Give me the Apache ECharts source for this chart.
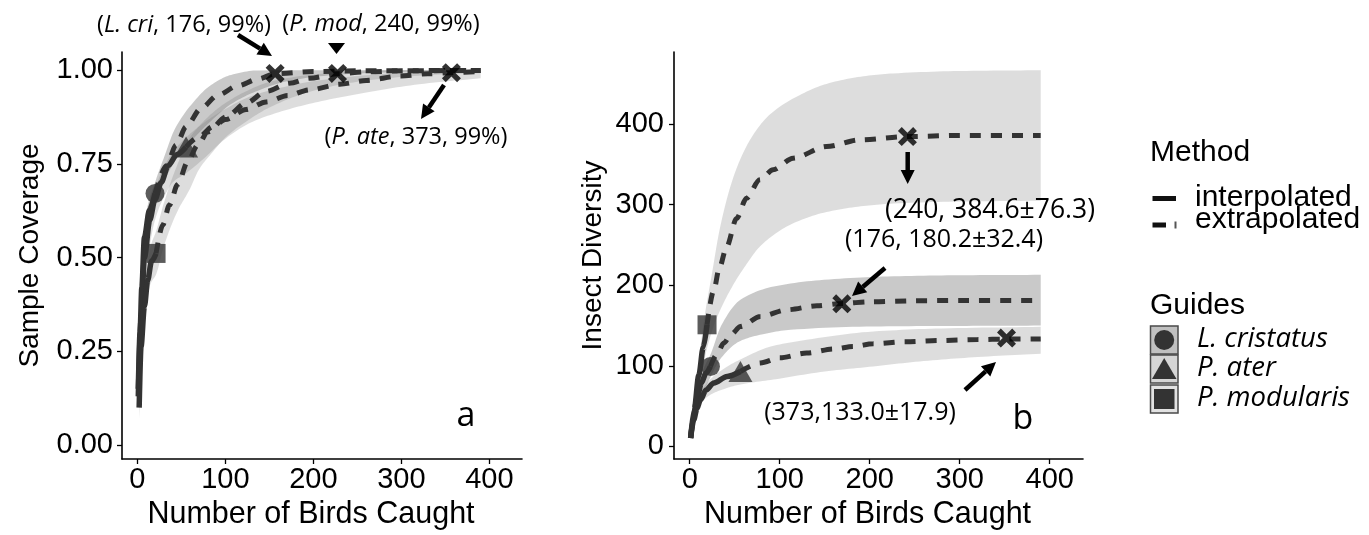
<!DOCTYPE html>
<html><head><meta charset="utf-8">
<script src="https://cdn.jsdelivr.net/npm/echarts@6/dist/echarts.min.js"></script>
<style>html,body{margin:0;padding:0;background:#fff}#c{width:1369px;height:535px}</style>
</head><body><div id="c"></div>
<script>
// ---------- DATA ----------
const species = ['L. cristatus', 'P. ater', 'P. modularis'];
const xTicks = [0, 100, 200, 300, 400];
const yTicksA = [0, 0.25, 0.5, 0.75, 1];
const yTicksB = [0, 100, 200, 300, 400];

// Panel a: sample coverage
const covInterpLcri = [[1,0.15],[3,0.30],[5,0.42],[8,0.555],[13.7,0.627],[20,0.671]];
const covExtrapLcri = [[20,0.671],[33,0.745],[44,0.80],[55.3,0.849],[72.4,0.898],[91.4,0.933],[114,0.958],[137,0.976],[156.5,0.99],[200,0.996],[260,0.998],[390,0.999]];
const covHiLcri = [[1,0.18],[5,0.50],[10,0.62],[20,0.70],[30.7,0.77],[42,0.84],[61,0.907],[83.7,0.96],[106.5,0.987],[137,0.999],[390,1.0]];
const covLoLcri = [[1,0.12],[5,0.34],[10,0.50],[20,0.64],[30,0.70],[42,0.755],[61,0.81],[84,0.865],[107,0.91],[137,0.945],[170,0.97],[220,0.986],[300,0.995],[390,0.998]];

const covInterpPate = [[1,0.13],[4,0.33],[8,0.50],[14,0.60],[20,0.655],[27,0.70],[35,0.745],[45,0.775],[55.3,0.795]];
const covExtrapPate = [[55.3,0.795],[70,0.822],[85.7,0.849],[100,0.868],[123.5,0.895],[146.3,0.915],[171,0.932],[195.7,0.947],[230,0.962],[260,0.972],[298,0.984],[330,0.99],[356.8,0.993],[390,0.996]];
const covHiPate = [[1,0.16],[5,0.38],[10,0.54],[20,0.68],[30,0.74],[40,0.78],[55.3,0.82],[76,0.86],[99,0.895],[129,0.93],[167,0.955],[205,0.972],[260,0.986],[320,0.995],[390,0.999]];
const covLoPate = [[1,0.10],[5,0.30],[10,0.46],[20,0.60],[30,0.66],[40,0.70],[55.3,0.725],[76,0.765],[99,0.815],[129,0.86],[167,0.892],[205,0.915],[260,0.94],[320,0.962],[390,0.978]];

const covInterpPmod = [[2,0.10],[4.1,0.262],[8,0.37],[11.7,0.44],[16,0.49],[21.2,0.511]];
const covExtrapPmod = [[21.2,0.511],[28.8,0.587],[36.4,0.64],[45.8,0.695],[57,0.755],[68.6,0.80],[80,0.835],[100.8,0.875],[123.5,0.912],[146.3,0.943],[172.9,0.965],[195.7,0.978],[227.4,0.99],[260,0.995],[300,0.998],[390,0.999]];
const covHiPmod = [[2,0.13],[5,0.31],[10,0.46],[15,0.53],[21.2,0.57],[30,0.645],[45.8,0.75],[57,0.81],[70,0.85],[85,0.885],[100,0.912],[125,0.945],[150,0.968],[200,0.988],[260,0.997],[390,1.0]];
const covLoPmod = [[2,0.07],[5,0.22],[10,0.37],[15,0.43],[21.2,0.455],[30,0.53],[45.8,0.625],[59,0.68],[70,0.735],[85,0.78],[100,0.82],[125,0.865],[150,0.9],[200,0.945],[260,0.972],[320,0.985],[390,0.992]];

const covObserved = [[20,0.671],[55.3,0.795],[21.2,0.511]];   // L. cri, P. ater, P. mod
const covEndpoints = [[156.5,0.991],[227.4,0.991],[356.8,0.993]];

// Panel b: insect diversity
const divInterpLcri = [[1,10.4],[4,35],[8,60],[13,79],[18,91],[23,99.3]];
const divExtrapLcri = [[23,99.3],[30,114],[37.8,128.3],[46,139],[56.3,148.9],[78.5,161.3],[108,169.6],[141.4,174.6],[169,177.5],[200,179.5],[250,180.8],[300,181.2],[390,181.3]];
const divHiLcri = [[1,12],[5,45],[10,76],[16,98],[23,114],[35,150],[56.3,182],[93.3,198.5],[149,206.8],[220,211],[300,212.5],[390,213]];
const divLoLcri = [[1,9],[5,28],[10,48],[16,68],[23,86],[35,110],[56.3,131],[80,139],[112,144.8],[204,148.9],[300,149.6],[390,150]];

const divInterpPate = [[1,10.4],[4.4,33],[8,47],[11.9,58],[18,70],[26.7,78.7],[41.5,86.9],[56.3,93]];
const divExtrapPate = [[56.3,93],[78.5,103.5],[100,110],[130,115.9],[160,121],[182,124],[203.7,127.5],[240,130],[277.8,131.5],[320,132.6],[352,133.2],[390,133.5]];
const divHiPate = [[1,12],[5,40],[10,62],[20,80],[40,98],[56.3,108],[90,124],[130,132.4],[204,142.7],[280,146.5],[390,148.5]];
const divLoPate = [[1,9],[5,27],[10,48],[20,62],[40,72],[56.3,77],[93,83],[150,93],[204,99.3],[260,106],[320,111],[390,115]];

const divInterpPmod = [[1,10.4],[5,46],[10,88],[15,123],[19.2,151]];
const divExtrapPmod = [[19.2,151],[26.7,194],[33,222],[41,248],[52,283],[63,308],[77.8,331],[92.6,343.3],[114.8,357.8],[151.9,372.2],[188.9,380.5],[241.9,384.6],[300,386],[390,386]];
const divHiPmod = [[1,12],[5,55],[10,105],[15,150],[19.2,180],[24,210],[33,268],[45,322],[55.6,355],[70,386],[89,412],[122,436],[152,450],[190,459],[226,463],[300,466],[390,467]];
const divLoPmod = [[1,9],[5,38],[10,72],[15,100],[19.2,122],[30.3,160],[48,200],[63,226],[77,247],[95,264],[115,277],[152,291],[190,298],[226,301.5],[300,304],[390,305]];

const divObserved = [[23,99.3],[56.3,93],[19.2,151]];
const divEndpoints = [[169,177],[241.9,384.6],[352,134.5]];

const covAnnoSpecies = ['L. cri', 'P. mod', 'P. ate'];
const covAnnoRest = [', 176, 99%)', ', 240, 99%)', ', 373, 99%)'];
const divAnnoText = ['(240, 384.6±76.3)', '(176, 180.2±32.4)', '(373,133.0±17.9)'];
const methodLabels = ['interpolated', 'extrapolated'];

// ---------- STYLE / BUILD ----------
const LINE = '#333333';
const FILL_DARK = 'rgba(105,105,105,0.36)';
const FILL_LIGHT = 'rgba(120,120,120,0.25)';
const AX_FONT = 'Liberation Sans';
const ANNO_FONT = 'Open Sans';

// monotone cubic (Fritsch-Carlson) densification of pixel points, for drawing only
function smoothPx(p, steps) {
  const n = p.length;
  if (n < 3) return p;
  const dx = [], dy = [], m = [];
  for (let i = 0; i < n - 1; i++) { dx.push(p[i + 1][0] - p[i][0]); dy.push(p[i + 1][1] - p[i][1]); m.push(dy[i] / dx[i]); }
  const t = [m[0]];
  for (let i = 1; i < n - 1; i++) t.push(m[i - 1] * m[i] <= 0 ? 0 : (3 * (dx[i - 1] + dx[i])) / ((2 * dx[i] + dx[i - 1]) / m[i - 1] + (dx[i] + 2 * dx[i - 1]) / m[i]));
  t.push(m[n - 2]);
  const out = [];
  for (let i = 0; i < n - 1; i++) {
    for (let k = 0; k < steps; k++) {
      const s = k / steps, h = dx[i];
      const h00 = 2 * s * s * s - 3 * s * s + 1, h10 = s * s * s - 2 * s * s + s, h01 = -2 * s * s * s + 3 * s * s, h11 = s * s * s - s * s;
      out.push([p[i][0] + s * h, h00 * p[i][1] + h10 * h * t[i] + h01 * p[i + 1][1] + h11 * h * t[i + 1]]);
    }
  }
  out.push(p[n - 1]);
  return out;
}

function band(gi, hi, lo, fill) {
  const pts = hi.concat(lo.slice().reverse());
  return {
    type: 'custom', xAxisIndex: gi, yAxisIndex: gi, data: pts, silent: true, z: 1,
    renderItem: function (params, api) {
      if (params.dataIndex !== 0) return null;
      const h = smoothPx(hi.map(p => api.coord(p)), 12);
      const l = smoothPx(lo.map(p => api.coord(p)), 12);
      return { type: 'polygon', shape: { points: h.concat(l.reverse()) }, style: { fill: fill } };
    }
  };
}
function curve(gi, data, dashed) {
  return {
    type: 'line', xAxisIndex: gi, yAxisIndex: gi, data: data, showSymbol: false, silent: true,
    smooth: 0.3, smoothMonotone: 'x', z: 2,
    lineStyle: { color: LINE, width: dashed ? 5 : 5.5, type: dashed ? [11, 10] : 'solid', cap: 'butt' }
  };
}
const obsSymbols = ['circle', 'triangle', 'rect'];
const obsSizes = [19, [24, 21], 19];
function observed(gi, pts) {
  return pts.map((p, i) => ({
    type: 'scatter', xAxisIndex: gi, yAxisIndex: gi, data: [p], symbol: obsSymbols[i],
    symbolSize: obsSizes[i], itemStyle: { color: '#333' }, silent: true, z: 3
  }));
}
const XPATH = 'path://M0,4 L4,0 L10,6 L16,0 L20,4 L14,10 L20,16 L16,20 L10,14 L4,20 L0,16 L6,10 Z';
function endpoints(gi, pts) {
  return { type: 'scatter', xAxisIndex: gi, yAxisIndex: gi, data: pts, symbol: XPATH, symbolSize: 19,
    itemStyle: { color: '#000' }, silent: true, z: 4 };
}

function xAx(gi) {
  return {
    type: 'value', gridIndex: gi, min: -17.5, max: 437,
    name: 'Number of Birds Caught', nameLocation: 'middle', nameGap: 37,
    nameTextStyle: { fontFamily: AX_FONT, fontSize: 30.5, color: '#000', padding: [0, 22, 0, 0] },
    axisLine: { onZero: false, lineStyle: { color: '#000', width: 1.6 } },
    axisTick: { length: 5, customValues: xTicks, lineStyle: { color: '#000', width: 1.3 } },
    axisLabel: { customValues: xTicks, fontFamily: AX_FONT, fontSize: 29, color: '#000', margin: 6 },
    splitLine: { show: false }
  };
}
function yAx(gi, min, max, ticks, name, gap, margin, fmt) {
  return {
    type: 'value', gridIndex: gi, min: min, max: max,
    name: name, nameLocation: 'middle', nameGap: gap,
    nameTextStyle: { fontFamily: AX_FONT, fontSize: 28, color: '#000' },
    axisLine: { onZero: false, lineStyle: { color: '#000', width: 1.6 } },
    axisTick: { length: 5, customValues: ticks, lineStyle: { color: '#000', width: 1.3 } },
    axisLabel: { customValues: ticks, fontFamily: AX_FONT, fontSize: 29, color: '#000', margin: margin, formatter: fmt },
    splitLine: { show: false }
  };
}

function arrow(x1, y1, x2, y2) {
  const hl = 14, hw = 14, w = 4.5;
  const a = Math.atan2(y2 - y1, x2 - x1);
  const bx = x2 - hl * Math.cos(a), by = y2 - hl * Math.sin(a);
  const nx = -Math.sin(a), ny = Math.cos(a);
  return [
    { type: 'line', z: 100, shape: { x1: x1, y1: y1, x2: bx, y2: by }, style: { stroke: '#000', lineWidth: w } },
    { type: 'polygon', z: 100, shape: { points: [[x2, y2], [bx + nx * hw / 2, by + ny * hw / 2], [bx - nx * hw / 2, by - ny * hw / 2]] }, style: { fill: '#000' } }
  ];
}
function txt(x, y, text, opts) {
  return Object.assign({ type: 'text', z: 100, x: x, y: y,
    style: Object.assign({ text: text, fill: '#000', fontFamily: ANNO_FONT, fontSize: 25, align: 'center', verticalAlign: 'middle' }, opts || {}) });
}
const A_FS = 23.5;
const richItal = { i: { fontFamily: ANNO_FONT, fontSize: A_FS, fontStyle: 'italic', fill: '#000' }, n: { fontFamily: ANNO_FONT, fontSize: A_FS, fill: '#000' } };

const graphics = [];
// panel a annotations
const covAnnoPos = [[184, 25], [381, 24], [416, 137]];
covAnnoSpecies.forEach((s, i) => {
  graphics.push(txt(covAnnoPos[i][0], covAnnoPos[i][1], '{n|(}{i|' + s + '}{n|' + covAnnoRest[i] + '}', { rich: richItal, fontSize: A_FS }));
});
graphics.push(...arrow(238, 35, 272, 56));
graphics.push({ type: 'polygon', z: 100, shape: { points: [[328, 43], [345, 43], [336.5, 54]] }, style: { fill: '#000' } });
graphics.push(...arrow(444, 85, 421, 119));
// panel b annotations
const divAnnoPos = [[990, 210], [944, 240], [860, 413]];
const divAnnoFs = [26.5, 25, 25];
divAnnoText.forEach((t, i) => graphics.push(txt(divAnnoPos[i][0], divAnnoPos[i][1], t, { fontSize: divAnnoFs[i] })));
graphics.push(...arrow(907.7, 152, 907.7, 184));
graphics.push(...arrow(885, 268, 852, 296));
graphics.push(...arrow(965, 390, 996, 362));
// panel letters
graphics.push(txt(466, 416, 'a', { fontSize: 34 }));
graphics.push(txt(1023, 419, 'b', { fontSize: 34 }));
// legend: Method
const LF = { fontFamily: AX_FONT, fontSize: 30, align: 'left' };
graphics.push(txt(1150, 153, 'Method', LF));
graphics.push(txt(1195, 198, methodLabels[0], LF));
graphics.push(txt(1195, 220, methodLabels[1], LF));
graphics.push({ type: 'rect', z: 100, shape: { x: 1152.5, y: 196, width: 23.5, height: 5 }, style: { fill: '#111' } });
graphics.push({ type: 'rect', z: 100, shape: { x: 1152.5, y: 222.5, width: 13.5, height: 5 }, style: { fill: '#111' } });
graphics.push({ type: 'rect', z: 100, shape: { x: 1174.5, y: 221.5, width: 2, height: 7 }, style: { fill: '#555' } });
// legend: Guides
graphics.push(txt(1150, 306, 'Guides', LF));
const boxFill = ['#c0c0c0', '#d5d5d5', '#e2e2e2'];
const boxY = [326, 355, 385];
species.forEach((s, i) => {
  const y0 = boxY[i], cy = y0 + 14;
  graphics.push({ type: 'rect', z: 100, shape: { x: 1150.5, y: y0, width: 27.5, height: 28 }, style: { fill: boxFill[i], stroke: '#4a4a4a', lineWidth: 1.5 } });
  if (i === 0) graphics.push({ type: 'circle', z: 101, shape: { cx: 1164.2, cy: cy, r: 10 }, style: { fill: '#333' } });
  if (i === 1) graphics.push({ type: 'polygon', z: 101, shape: { points: [[1164.2, cy - 11], [1176.5, cy + 10], [1152, cy + 10]] }, style: { fill: '#333' } });
  if (i === 2) graphics.push({ type: 'rect', z: 101, shape: { x: 1154, y: cy - 10, width: 20.5, height: 20 }, style: { fill: '#333' } });
  graphics.push(txt(1197, cy - 1, s, { fontFamily: ANNO_FONT, fontStyle: 'italic', fontSize: 27.5, align: 'left' }));
});

const series = [
  band(0, covHiLcri, covLoLcri, FILL_DARK),
  band(0, covHiPate, covLoPate, FILL_LIGHT),
  band(0, covHiPmod, covLoPmod, FILL_LIGHT),
  curve(0, covInterpLcri, false), curve(0, covExtrapLcri, true),
  curve(0, covInterpPate, false), curve(0, covExtrapPate, true),
  curve(0, covInterpPmod, false), curve(0, covExtrapPmod, true),
  ...observed(0, covObserved),
  endpoints(0, covEndpoints),
  band(1, divHiLcri, divLoLcri, FILL_DARK),
  band(1, divHiPate, divLoPate, FILL_LIGHT),
  band(1, divHiPmod, divLoPmod, FILL_LIGHT),
  curve(1, divInterpLcri, false), curve(1, divExtrapLcri, true),
  curve(1, divInterpPate, false), curve(1, divExtrapPate, true),
  curve(1, divInterpPmod, false), curve(1, divExtrapPmod, true),
  ...observed(1, divObserved),
  endpoints(1, divEndpoints)
];

const option = {
  animation: false,
  backgroundColor: '#ffffff',
  grid: [
    { left: 122, top: 52, width: 400, height: 407, outerBoundsMode: 'none' },
    { left: 674, top: 52, width: 409, height: 407, outerBoundsMode: 'none' }
  ],
  xAxis: [xAx(0), xAx(1)],
  yAxis: [
    yAx(0, -0.037, 1.048, yTicksA, 'Sample Coverage', 78, 9, v => v.toFixed(2)),
    yAx(1, -15.6, 489.6, yTicksB, 'Insect Diversity', 67, 10, v => String(v))
  ],
  series: series,
  graphic: graphics
};
const chart = echarts.init(document.getElementById('c'), null, { renderer: 'canvas' });
chart.setOption(option);
</script></body></html>
